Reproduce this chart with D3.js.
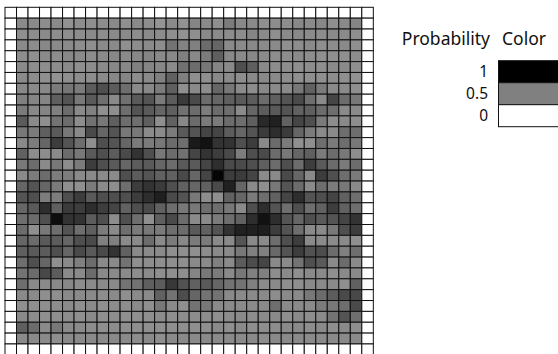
<!DOCTYPE html>
<html>
<head>
<meta charset="utf-8">
<script src="https://cdn.jsdelivr.net/npm/d3@7"></script>
<style>
  body { margin: 0; background: white; }
  svg { display: block; }
</style>
</head>
<body>
<div id="wrapper"></div>
<script>

// probability per cell, 30 x 30 (row by row, top to bottom)
const probRows = [
  [.46,.46,.45,.46,.43,.45,.44,.45,.46,.44,.46,.45,.42,.46,.43, .48,.46,.44,.52,.47,.46,.44,.45,.45,.47,.46,.47,.44,.46,.48],
  [.44,.45,.46,.45,.44,.45,.46,.45,.46,.46,.45,.46,.45,.44,.43, .44,.46,.46,.45,.45,.48,.46,.44,.46,.47,.46,.45,.46,.46,.44],
  [.46,.45,.47,.46,.46,.45,.44,.46,.46,.44,.45,.46,.45,.55,.49, .50,.58,.60,.46,.46,.47,.46,.46,.44,.45,.46,.44,.45,.46,.44],
  [.45,.44,.46,.45,.47,.46,.45,.46,.47,.46,.47,.48,.46,.47,.50, .47,.52,.63,.47,.46,.47,.46,.45,.45,.46,.45,.44,.44,.44,.45],
  [.46,.45,.45,.45,.46,.44,.45,.46,.47,.47,.50,.48,.47,.46,.56, .58,.53,.48,.46,.69,.63,.46,.45,.45,.44,.45,.44,.46,.46,.44],
  [.46,.45,.44,.43,.44,.45,.45,.46,.47,.48,.45,.46,.50,.62,.50, .44,.44,.47,.46,.45,.46,.47,.46,.45,.44,.44,.44,.45,.44,.43],
  [.47,.46,.47,.52,.54,.52,.64,.69,.64,.57,.46,.47,.52,.63,.44, .46,.45,.60,.53,.46,.45,.47,.46,.46,.53,.62,.52,.46,.46,.44],
  [.50,.48,.48,.63,.67,.53,.65,.57,.46,.56,.65,.67,.52,.64,.77, .71,.58,.60,.63,.65,.64,.58,.63,.67,.71,.57,.46,.73,.58,.53],
  [.52,.47,.48,.50,.58,.46,.50,.44,.44,.57,.67,.65,.60,.63,.56, .58,.51,.58,.57,.46,.60,.64,.65,.67,.62,.63,.58,.57,.46,.46],
  [.65,.46,.44,.55,.58,.45,.56,.53,.63,.57,.57,.63,.44,.62,.47, .58,.52,.52,.58,.57,.63,.84,.87,.62,.73,.69,.52,.45,.46,.45],
  [.53,.52,.63,.65,.53,.46,.71,.60,.67,.53,.53,.46,.46,.52,.65, .67,.73,.73,.64,.60,.67,.77,.82,.77,.60,.52,.46,.46,.57,.57],
  [.46,.51,.60,.76,.67,.57,.44,.69,.67,.60,.52,.52,.53,.58,.57, .90,.93,.80,.80,.69,.76,.46,.58,.52,.44,.44,.57,.52,.57,.53],
  [.62,.45,.45,.46,.58,.53,.65,.69,.64,.71,.80,.69,.53,.58,.56, .73,.80,.76,.71,.51,.69,.71,.58,.53,.60,.63,.52,.58,.53,.45],
  [.53,.58,.46,.53,.45,.52,.76,.69,.65,.60,.64,.65,.60,.58,.65, .65,.73,.82,.71,.71,.69,.63,.58,.69,.58,.76,.65,.58,.52,.58],
  [.46,.52,.58,.51,.51,.46,.46,.46,.46,.69,.64,.67,.62,.62,.71, .60,.73,.98,.76,.77,.73,.46,.46,.71,.60,.46,.76,.69,.57,.52],
  [.60,.67,.60,.52,.44,.44,.52,.46,.45,.57,.76,.80,.77,.69,.62, .60,.62,.71,.87,.60,.46,.44,.53,.67,.58,.46,.57,.52,.53,.46],
  [.67,.69,.51,.51,.69,.76,.65,.69,.69,.69,.76,.82,.88,.71,.67, .53,.45,.44,.62,.60,.52,.57,.62,.73,.82,.67,.69,.73,.62,.57],
  [.60,.65,.82,.63,.77,.76,.82,.76,.73,.62,.69,.71,.62,.57,.53, .53,.57,.57,.53,.46,.69,.82,.67,.57,.69,.57,.62,.76,.62,.57],
  [.57,.58,.69,.95,.80,.80,.64,.69,.45,.69,.57,.44,.63,.71,.58, .46,.46,.52,.57,.62,.82,.93,.82,.67,.60,.69,.65,.67,.73,.80],
  [.58,.44,.53,.57,.67,.57,.63,.52,.46,.57,.52,.53,.52,.57,.58, .65,.62,.67,.80,.87,.87,.88,.76,.67,.57,.46,.46,.53,.69,.76],
  [.60,.58,.65,.64,.60,.69,.71,.50,.50,.46,.46,.58,.46,.52,.47, .52,.52,.46,.46,.67,.46,.46,.57,.69,.76,.46,.46,.46,.46,.44],
  [.63,.65,.64,.69,.60,.71,.65,.71,.80,.62,.46,.46,.46,.44,.44, .44,.45,.46,.46,.53,.50,.50,.59,.67,.76,.68,.70,.58,.50,.57],
  [.57,.69,.60,.44,.46,.50,.58,.46,.46,.55,.44,.45,.44,.44,.44, .46,.46,.50,.46,.64,.70,.73,.46,.46,.55,.69,.65,.46,.58,.46],
  [.55,.58,.72,.64,.46,.46,.58,.46,.46,.46,.45,.46,.44,.44,.44, .48,.53,.52,.46,.53,.50,.50,.45,.46,.44,.46,.46,.44,.46,.46],
  [.57,.46,.46,.46,.47,.45,.46,.46,.46,.55,.55,.63,.64,.78,.68, .62,.65,.60,.55,.55,.50,.46,.46,.44,.44,.46,.46,.46,.44,.62],
  [.46,.46,.44,.44,.46,.46,.46,.45,.46,.44,.46,.46,.62,.55,.70, .60,.55,.55,.46,.46,.46,.46,.45,.46,.46,.53,.58,.64,.71,.72],
  [.44,.44,.44,.45,.46,.44,.46,.44,.45,.45,.46,.44,.53,.46,.44, .55,.53,.46,.46,.46,.46,.46,.57,.46,.46,.46,.52,.53,.57,.71],
  [.46,.45,.44,.44,.45,.44,.46,.44,.45,.44,.44,.44,.45,.44,.45, .45,.45,.44,.45,.46,.45,.46,.46,.44,.46,.45,.46,.55,.67,.57],
  [.63,.58,.46,.53,.46,.46,.45,.44,.45,.44,.44,.44,.44,.44,.44, .44,.44,.46,.44,.46,.44,.45,.45,.46,.46,.45,.46,.44,.46,.44],
  [.46,.46,.46,.44,.46,.46,.46,.46,.46,.46,.45,.46,.44,.46,.46, .46,.46,.46,.46,.46,.46,.45,.46,.46,.46,.46,.46,.46,.46,.46]
]

const legendValues = [1, 0.5, 0]
const legendLabels = ["1", "0.5", "0"]
const legendTitles = ["Probability", "Color"]

// grid is drawn with a one-cell empty (0) frame round the data
const n = probRows.length + 2
const emptyRow = d3.range(n).map(() => 0)
const grid = [emptyRow, ...probRows.map(r => [0, ...r, 0]), emptyRow]

const cells = []
grid.forEach((row, i) => row.forEach((v, j) => cells.push({ row: i, col: j, value: v })))

const dimensions = {
  width: 558,
  height: 354,
  gridLeft: 5,
  gridTop: 7.3,
  cellW: 11.51,
  cellH: 10.86,
}

const svg = d3.select("#wrapper")
  .append("svg")
    .attr("width", dimensions.width)
    .attr("height", dimensions.height)

const xScale = d3.scaleBand()
  .domain(d3.range(n))
  .range([dimensions.gridLeft, dimensions.gridLeft + n * dimensions.cellW])

const yScale = d3.scaleBand()
  .domain(d3.range(n))
  .range([dimensions.gridTop, dimensions.gridTop + n * dimensions.cellH])

const colorScale = d3.scaleLinear()
  .domain([0, 0.5, 1])
  .range(["#ffffff", "#808080", "#000000"])

svg.append("g")
  .selectAll("rect")
  .data(cells)
  .enter().append("rect")
    .attr("x", d => xScale(d.col))
    .attr("y", d => yScale(d.row))
    .attr("width", xScale.bandwidth())
    .attr("height", yScale.bandwidth())
    .attr("fill", d => colorScale(d.value))
    .attr("stroke", "#111")
    .attr("stroke-width", 1)

// legend
const font = "'Noto Sans', sans-serif"
const legend = svg.append("g")

legend.append("text")
    .attr("x", 490)
    .attr("y", 45)
    .attr("text-anchor", "end")
    .style("font-family", font)
    .style("font-size", "17.5px")
    .attr("fill", "#111")
    .text(legendTitles[0])

legend.append("text")
    .attr("x", 502)
    .attr("y", 45)
    .style("font-family", font)
    .style("font-size", "17.5px")
    .attr("fill", "#111")
    .text(legendTitles[1])

const legendY = d3.scaleBand()
  .domain(legendValues)
  .range([60.7, 126.7])

legend.selectAll(".swatch")
  .data(legendValues)
  .enter().append("rect")
    .attr("class", "swatch")
    .attr("x", 498.5)
    .attr("y", d => legendY(d))
    .attr("width", 80)
    .attr("height", legendY.bandwidth())
    .attr("fill", d => colorScale(d))
    .attr("stroke", "#111")
    .attr("stroke-width", 1)

legend.selectAll(".label")
  .data(legendValues)
  .enter().append("text")
    .attr("class", "label")
    .attr("x", 488)
    .attr("y", d => legendY(d) + legendY.bandwidth() / 2 + 5.5)
    .attr("text-anchor", "end")
    .style("font-family", font)
    .style("font-size", "15.5px")
    .attr("fill", "#111")
    .text((d, i) => legendLabels[i])

</script>
</body>
</html>
